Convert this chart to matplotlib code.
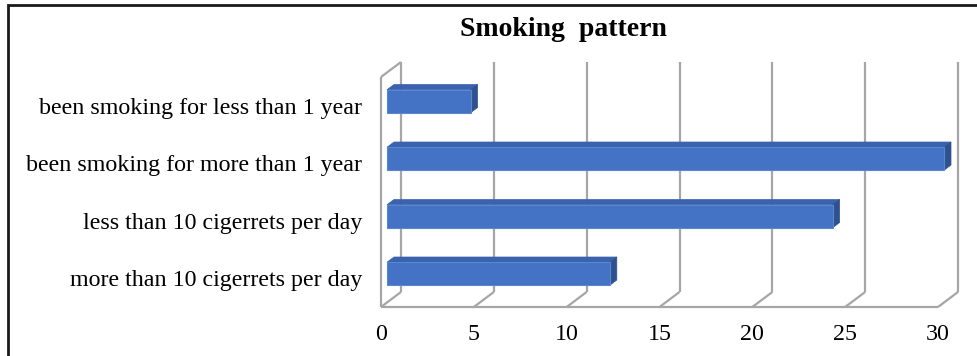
import matplotlib
matplotlib.use("Agg")
import matplotlib.pyplot as plt
from matplotlib.patches import Polygon, Rectangle

# Data
categories = [
    "been smoking for less than 1 year",
    "been smoking for more than 1 year",
    "less than 10 cigerrets per day",
    "more than 10 cigerrets per day",
]
values = [4.5, 30, 24, 12]
x_ticks = [0, 5, 10, 15, 20, 25, 30]
title = "Smoking  pattern"

W, H, DPI = 977, 356, 100
plt.rcParams["font.family"] = ["Liberation Serif", "DejaVu Serif"]

fig = plt.figure(figsize=(W / DPI, H / DPI), dpi=DPI)

# Front plane of the 3-D box, in pixels
left_px, right_px, top_px, bottom_px = 381, 938, 77, 307
ax = fig.add_axes([left_px / W, 1 - bottom_px / H,
                   (right_px - left_px) / W, (bottom_px - top_px) / H])
xmin, xmax = 0, 30
ymin, ymax = -0.5, len(categories) - 0.5
ax.set_xlim(xmin, xmax)
ax.set_ylim(ymax, ymin)

# Depth offset of the back wall (pixels right / up), expressed in data units
depth_dx_px, depth_dy_px = 20, 15
DX = depth_dx_px / (right_px - left_px) * (xmax - xmin)
DY = depth_dy_px / (bottom_px - top_px) * (ymax - ymin)

grid_c = "#A6A6A6"
grid_lw = 1.6

def seg(x0, y0, x1, y1, **kw):
    ax.plot([x0, x1], [y0, y1], color=grid_c, lw=grid_lw,
            solid_capstyle="butt", clip_on=False, zorder=1, **kw)

# Back wall gridlines and floor diagonals
for t in x_ticks:
    seg(t + DX, ymin - DY, t + DX, ymax - DY)
    seg(t, ymax, t + DX, ymax - DY)
# Front floor edge and side wall
seg(xmin, ymax, xmax, ymax)
seg(xmin, ymin, xmin, ymax)
seg(xmin, ymin, xmin + DX, ymin - DY)

# 3-D bars
bar_h = 0.4
d_front, d_back = 0.3, 0.65
front_c, top_c, side_c = "#4472C4", "#3A62AE", "#2F528F"
for i, v in enumerate(values):
    fx, fy = d_front * DX, d_front * DY
    bx, by = d_back * DX, d_back * DY
    y_top = i - bar_h / 2
    y_bot = i + bar_h / 2
    # top face
    ax.add_patch(Polygon([(fx, y_top - fy), (v + fx, y_top - fy),
                          (v + bx, y_top - by), (bx, y_top - by)],
                         closed=True, facecolor=top_c, edgecolor=top_c,
                         lw=0.5, clip_on=False, zorder=3))
    # right face
    ax.add_patch(Polygon([(v + fx, y_top - fy), (v + bx, y_top - by),
                          (v + bx, y_bot - by), (v + fx, y_bot - fy)],
                         closed=True, facecolor=side_c, edgecolor=side_c,
                         lw=0.5, clip_on=False, zorder=3))
    # front face
    ax.add_patch(Rectangle((fx, y_top - fy), v, bar_h,
                           facecolor=front_c, edgecolor="#5B86D0",
                           lw=0.8, clip_on=False, zorder=4))

for s in ax.spines.values():
    s.set_visible(False)
ax.set_facecolor("none")
ax.set_xticks(x_ticks)
ax.set_xticklabels([str(t) for t in x_ticks])
ax.set_yticks(range(len(categories)))
ax.set_yticklabels(categories)
ax.tick_params(axis="both", length=0, labelsize=17.3, colors="#000000")
ax.tick_params(axis="x", pad=12)
ax.tick_params(axis="y", pad=13.5)

fig.text(563 / W, 1 - 29 / H, title, ha="center", va="center",
         fontsize=20, fontweight="bold")

# Outer chart frame
fig.patches.append(Rectangle((7.5 / W, -0.2), 1.2, 1.2 - 5 / H,
                             transform=fig.transFigure, fill=False,
                             edgecolor="#1a1a1a", lw=2, clip_on=False))

fig.savefig("out.png", dpi=DPI)
